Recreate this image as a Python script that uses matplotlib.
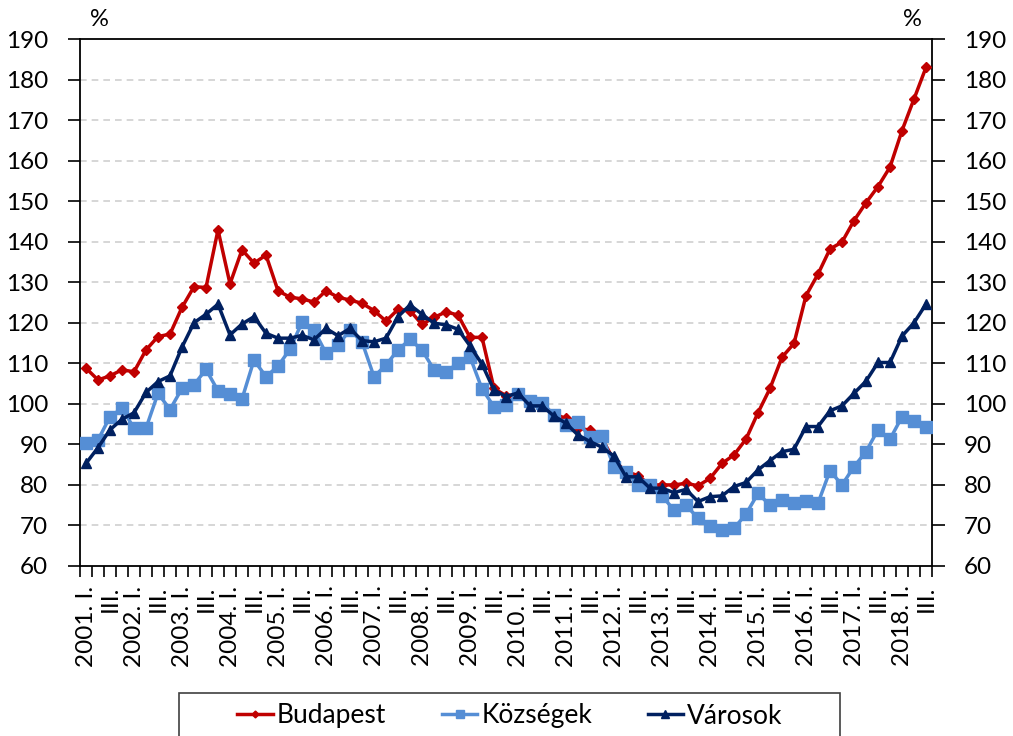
import numpy as np
import matplotlib
matplotlib.use("Agg")
import matplotlib.pyplot as plt
from matplotlib.patches import Rectangle

plt.rcParams['font.family'] = ['Lato', 'DejaVu Sans']

years = list(range(2001, 2019))

budapest = [108.8, 105.9, 106.9, 108.4, 107.9, 113.3, 116.6, 117.2, 123.8, 128.9,
            128.7, 142.9, 129.6, 138.0, 134.7, 136.7, 127.9, 126.3, 125.9, 125.1,
            127.9, 126.3, 125.6, 124.8, 123.0, 120.4, 123.3, 123.0, 119.6, 121.3,
            122.7, 121.9, 116.4, 116.4, 103.8, 102.0, 102.3, 100.2, 99.8, 97.5,
            96.4, 94.0, 93.5, 91.5, 86.0, 83.3, 82.3, 80.0, 80.0, 80.0,
            80.4, 79.8, 81.6, 85.3, 87.4, 91.3, 97.8, 103.8, 111.5, 114.9,
            126.7, 132.0, 138.2, 139.9, 145.2, 149.6, 153.6, 158.4, 167.4, 175.2,
            183.0]

kozsegek = [90.4, 91.1, 96.8, 98.9, 94.0, 94.0, 102.6, 98.6, 103.8, 104.7,
            108.5, 103.2, 102.4, 101.2, 110.8, 106.7, 109.3, 113.5, 120.1, 118.2,
            112.5, 114.5, 118.2, 115.3, 106.7, 109.6, 113.3, 115.9, 113.3, 108.4,
            107.9, 110.0, 111.6, 103.7, 99.3, 99.7, 102.4, 100.8, 100.3, 97.2,
            94.8, 95.6, 91.7, 92.1, 84.5, 83.3, 80.0, 80.0, 77.3, 73.8,
            75.0, 71.8, 69.8, 68.9, 69.3, 72.8, 77.9, 75.0, 76.3, 75.6,
            76.0, 75.5, 83.5, 80.0, 84.5, 88.2, 93.6, 91.3, 96.8, 95.8,
            94.4]

varosok = [85.3, 89.2, 93.6, 96.2, 97.8, 102.8, 105.5, 106.9, 114.0, 120.0,
           122.1, 124.6, 117.0, 119.7, 121.5, 117.4, 116.2, 116.2, 116.9, 115.8,
           118.6, 116.8, 118.6, 115.6, 115.3, 116.2, 121.5, 124.4, 122.1, 119.9,
           119.5, 118.4, 114.3, 109.8, 103.4, 101.8, 102.7, 99.5, 99.5, 97.0,
           95.2, 92.3, 90.7, 89.3, 87.1, 82.0, 82.0, 79.2, 79.2, 78.1,
           78.9, 75.9, 77.1, 77.3, 79.6, 80.6, 83.7, 86.0, 88.2, 88.8,
           94.4, 94.4, 98.3, 99.5, 102.6, 105.6, 110.2, 110.2, 116.7, 120.0,
           124.6]

# (year, quarter index) for each point; only I. and III. get a label
periods = [(y, q) for y in years for q in range(4)][:len(budapest)]
x = np.arange(len(budapest))

fig = plt.figure(figsize=(10.13, 7.36), dpi=100)
ax = fig.add_axes([80 / 1013, 1 - 566 / 736, (932 - 80) / 1013, (566 - 39) / 736])

ax.plot(x, budapest, color="#C00000", lw=2.5, marker="D", ms=5, label="Budapest", zorder=3)
ax.plot(x, kozsegek, color="#558ED5", lw=2.5, marker="s", ms=8.5, label="Községek", zorder=4)
ax.plot(x, varosok, color="#002060", lw=2.5, marker="^", ms=7.5, label="Városok", zorder=5)

ax.set_xlim(-0.5, len(x) - 0.5)
ax.set_ylim(60, 190)
ax.set_yticks(np.arange(60, 191, 10))
for v in range(70, 190, 10):
    ax.axhline(v, color="#D0D0D0", lw=1.2, ls=(0, (4, 3)), zorder=1)

ax.tick_params(axis="y", labelsize=17.5, length=9, width=1.2, pad=14,
               right=True, labelright=True, direction="out")

# x axis: ticks at category boundaries, labels at I. and III.
ax.set_xticks(np.arange(-0.5, len(x), 1))
ax.set_xticklabels([])
ax.tick_params(axis="x", which="major", length=8, width=1.2, direction="out")
lab_pos = [i for i, (yy, q) in enumerate(periods) if q in (0, 2)]
lab_txt = [f"{periods[i][0]}. I." if periods[i][1] == 0 else "III." for i in lab_pos]
ax.set_xticks(lab_pos, minor=True)
ax.set_xticklabels(lab_txt, minor=True, rotation=90, fontsize=17.5, va="top", ha="center")
ax.tick_params(axis="x", which="minor", length=0, pad=14)

for s in ax.spines.values():
    s.set_linewidth(1.3)
    s.set_color("black")

fig.text(99 / 1013, 1 - 19 / 736, "%", fontsize=17, ha="center", va="center")
fig.text(912 / 1013, 1 - 19 / 736, "%", fontsize=17, ha="center", va="center")

# legend box, running off the bottom edge
fig.patches.append(Rectangle((179 / 1013, -0.05), (840 - 179) / 1013, 0.05 + 1 - 693 / 736,
                             transform=fig.transFigure, fill=False, edgecolor="#404040", lw=1.2))
fig.legend(loc="center", bbox_to_anchor=(510 / 1013, 1 - 716 / 736), ncol=3, frameon=False,
           fontsize=19, handlelength=1.35, columnspacing=2.1, handletextpad=0.15,
           markerscale=0.7)

fig.savefig("out.png", dpi=100)
